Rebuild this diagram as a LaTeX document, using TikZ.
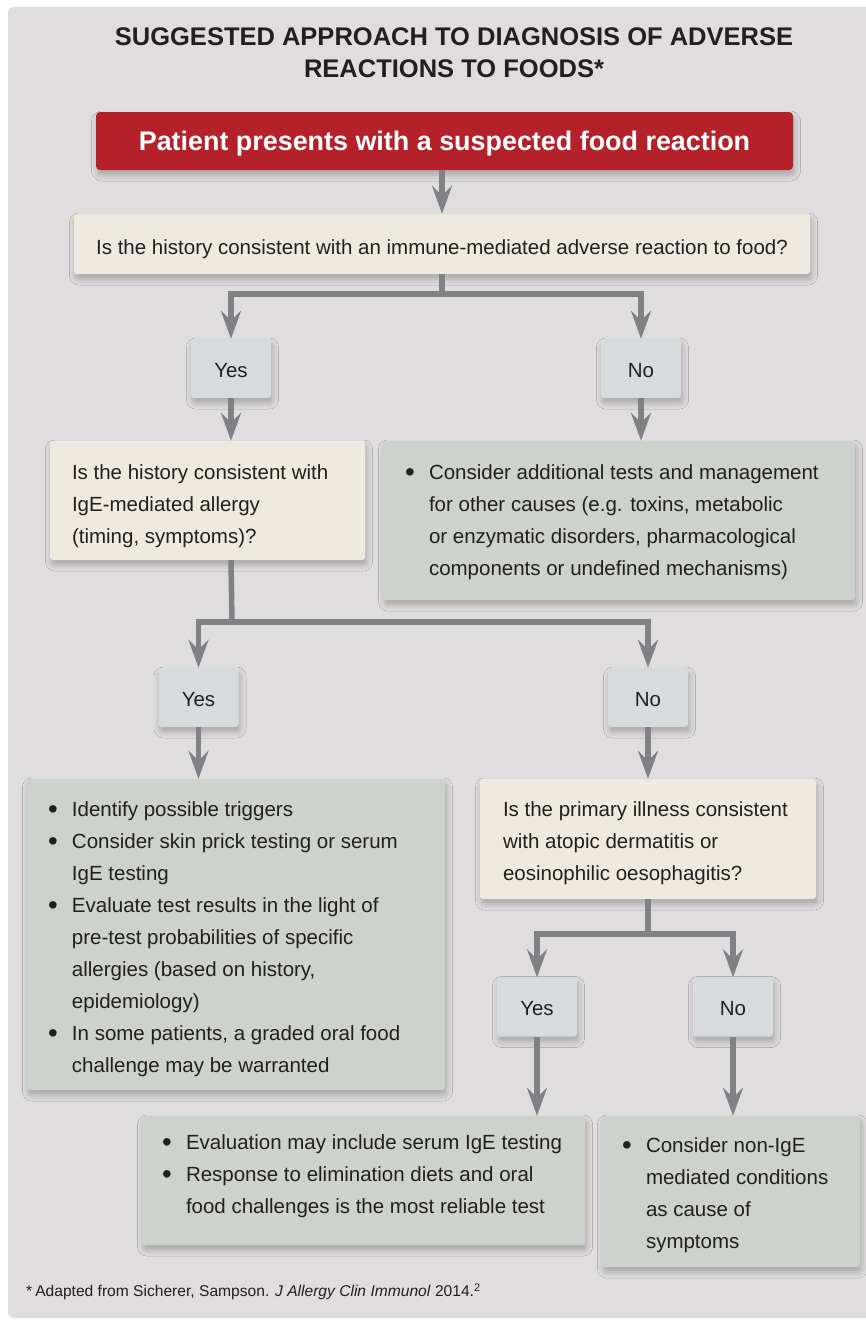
\documentclass[tikz,border=0pt]{standalone}
\usepackage{fontspec}
\setmainfont{Liberation Sans}
\usetikzlibrary{arrows.meta,shadows.blur}
\definecolor{panel}{HTML}{DFDDDE}
\definecolor{redbox}{HTML}{B5212B}
\definecolor{cream}{HTML}{EEEAE0}
\definecolor{ynfill}{HTML}{D8DBDE}
\definecolor{sage}{HTML}{CED2CC}
\definecolor{arrowc}{HTML}{808185}
\definecolor{textc}{HTML}{231F20}
\newcommand\bodyfont{\fontsize{20.5}{32}\selectfont}
% move content down by #1 without changing its reported size
\newcommand\sdown[2]{\raisebox{-#1}[\height][\depth]{#2}}
% bullet list: #1 = width of the text area, #2 = rows
\newcommand\blist[2]{\makebox[#1][l]{\begin{tabular}{@{}p{24pt}@{}l@{}}#2\end{tabular}}}
% plain left-aligned lines
\newcommand\plines[2]{\makebox[#1][l]{\begin{tabular}{@{}l@{}}#2\end{tabular}}}
\newcommand\bu{\raisebox{-1.8pt}{\scalebox{1.35}{\textbullet}}}
\tikzset{
  boxbase/.style={rounded corners=3pt, inner ysep=0pt, text=textc, font=\bodyfont,
    blur shadow={shadow xshift=1.5pt, shadow yshift=-5pt, shadow blur radius=6pt, shadow opacity=25}},
  qbox/.style={boxbase, fill=cream},
  sbox/.style={boxbase, fill=sage},
  ynbox/.style={boxbase, fill=ynfill, minimum width=80pt, minimum height=59pt, inner xsep=0pt},
  linec/.style={draw=arrowc, line width=5.5pt},
  conn/.style={linec, -{Stealth[length=28pt, width=20pt, inset=10pt]}},
}
\begin{document}
\begin{tikzpicture}[x=1pt, y=-1pt]
\useasboundingbox (0,0) rectangle (865,1320);
\fill[white] (0,0) rectangle (865,1320);
\fill[panel, rounded corners=6pt] (8,7) rectangle (880,1318);

\node[text=textc, align=center, font=\fontsize{25.5}{32}\selectfont\bfseries] (title) at (454,53)
  {SUGGESTED APPROACH TO DIAGNOSIS OF ADVERSE\\REACTIONS TO FOODS*};

\node[boxbase, fill=redbox, text=white, rounded corners=4pt, minimum width=697pt, minimum height=58pt,
  font=\fontsize{26.9}{30}\selectfont\bfseries] (red) at (444.5,141)
  {\sdown{3pt}{Patient presents with a suspected food reaction}};

\node[qbox, minimum width=736pt, minimum height=60pt] (q1) at (442,244)
  {\sdown{5pt}{Is the history consistent with an immune-mediated adverse reaction to food?}};

\node[ynbox] (yes1) at (231,368.5) {\sdown{2.5pt}{Yes}};
\node[ynbox] (no1) at (641,368.5) {\sdown{2.5pt}{No}};

\node[qbox, minimum width=315pt, minimum height=119pt, inner xsep=22pt] (q2) at (207.5,500.5)
  {\sdown{5pt}{\plines{271pt}{Is the history consistent with\\IgE-mediated allergy\\(timing, symptoms)?}}};

\node[sbox, minimum width=472pt, minimum height=159pt, inner xsep=22pt] (r1) at (619,520.5)
  {\sdown{1pt}{\blist{428pt}{\bu & Consider additional tests and management\\
  & for other causes (e.g. toxins, metabolic\\
  & or enzymatic disorders, pharmacological\\
  & components or undefined mechanisms)}}};

\node[ynbox] (yes2) at (198.5,697.5) {\sdown{2.5pt}{Yes}};
\node[ynbox] (no2) at (648,697.5) {\sdown{2.5pt}{No}};

\node[sbox, minimum width=418pt, minimum height=311pt, inner xsep=21pt] (lbox) at (236,934.5)
  {\sdown{4pt}{\blist{376pt}{\bu & Identify possible triggers\\
  \bu & Consider skin prick testing or serum\\
  & IgE testing\\
  \bu & Evaluate test results in the light of\\
  & pre-test probabilities of specific\\
  & allergies (based on history,\\
  & epidemiology)\\
  \bu & In some patients, a graded oral food\\
  & challenge may be warranted}}};

\node[qbox, minimum width=336pt, minimum height=120pt, inner xsep=23pt] (q3) at (648,839)
  {\sdown{3pt}{\plines{290pt}{Is the primary illness consistent\\with atopic dermatitis or\\eosinophilic oesophagitis?}}};

\node[ynbox] (yes3) at (537,1007) {\sdown{2pt}{Yes}};
\node[ynbox] (no3) at (733,1007) {\sdown{2pt}{No}};

\node[sbox, minimum width=443pt, minimum height=129pt, inner xsep=20pt] (b1) at (363.5,1180.5)
  {\sdown{-5pt}{\blist{403pt}{\bu & Evaluation may include serum IgE testing\\
  \bu & Response to elimination diets and oral\\
  & food challenges is the most reliable test}}};

\node[sbox, minimum width=258pt, minimum height=151pt, inner xsep=20pt] (b2) at (731,1191.5)
  {\sdown{3pt}{\blist{218pt}{\bu & Consider non-IgE\\
  & mediated conditions\\
  & as cause of\\
  & symptoms}}};

\node[anchor=west, text=textc, inner sep=0pt, font=\fontsize{15.6}{18}\selectfont] (foot) at (26,1292)
  {*\hspace{3pt}Adapted from Sicherer, Sampson. \textit{J Allergy Clin Immunol} 2014.\textsuperscript{2}};

\coordinate (j1) at (442,294);
\coordinate (j2) at (232,622);
\coordinate (j3) at (648,934);

\draw[conn] (red.south -| q1.north) -- (q1.north);
\draw[linec] (q1.south) -- (j1);
\draw[conn] (j1) -| (yes1.north);
\draw[conn] (j1) -| (no1.north);
\draw[conn] (yes1.south) -- (yes1 |- q2.north);
\draw[conn] (no1.south) -- (no1 |- r1.north);
\draw[linec] (yes1 |- q2.south) -- (j2);
\draw[conn] (j2) -| (yes2.north);
\draw[conn] (j2) -| (no2.north);
\draw[conn] (yes2.south) -- (yes2 |- lbox.north);
\draw[conn] (no2.south) -- (no2 |- q3.north);
\draw[linec] (q3.south) -- (j3);
\draw[conn] (j3) -| (yes3.north);
\draw[conn] (j3) -| (no3.north);
\draw[conn] (yes3.south) -- (yes3 |- b1.north);
\draw[conn] (no3.south) -- (no3 |- b2.north);
\end{tikzpicture}
\end{document}
